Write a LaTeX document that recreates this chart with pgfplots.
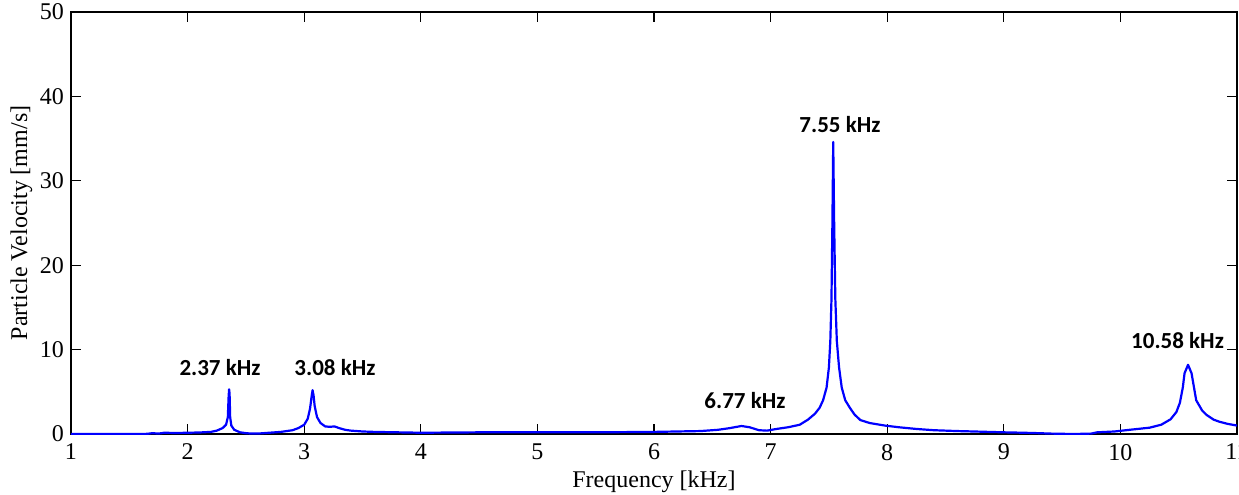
\documentclass[border=0pt]{standalone}
\usepackage{fontspec}
\setmainfont{Liberation Serif}
\newfontfamily\calfont{Carlito}
\usepackage{pgfplots}
\pgfplotsset{compat=1.18}
\begin{document}
\begin{tikzpicture}
\begin{axis}[
  scale only axis,
  width=583pt, height=211pt,
  xmin=1, xmax=11, ymin=0, ymax=50,
  xtick={1,2,...,11}, ytick={0,10,...,50},
  tick align=inside,
  major tick length=5pt,
  tick style={black, line width=0.6pt},
  axis line style={black, line width=0.8pt},
  /pgf/number format/assume math mode=true,
  ticklabel style={font=\fontsize{12}{14}\selectfont},
  xticklabel style={yshift=-1.5pt},
  label style={font=\fontsize{12}{14}\selectfont},
  xlabel={Frequency [kHz]},
  ylabel={Particle Velocity [mm/s]},
  xlabel style={yshift=1.8pt},
  ylabel style={yshift=-3pt},
  clip=true,
]
\addplot[blue, line width=1.1pt, line join=round] coordinates {
(1.00,0.0) (1.50,0.0) (1.65,0.02) (1.70,0.1) (1.75,0.05) (1.80,0.15) (1.90,0.12)
(2.00,0.15) (2.10,0.18) (2.20,0.25) (2.25,0.4) (2.30,0.7) (2.33,1.1) (2.345,2.0)
(2.352,4.5) (2.356,5.3) (2.360,4.8) (2.365,2.0) (2.375,1.0) (2.40,0.5) (2.45,0.2)
(2.50,0.1) (2.55,0.05) (2.60,0.05) (2.65,0.1) (2.70,0.15) (2.80,0.25) (2.90,0.45)
(2.95,0.7) (3.00,1.1) (3.03,1.8) (3.05,3.0) (3.065,4.6) (3.072,5.2) (3.08,4.6)
(3.09,3.3) (3.11,2.0) (3.14,1.3) (3.18,0.9) (3.22,0.85) (3.26,0.9) (3.30,0.7)
(3.35,0.5) (3.40,0.4) (3.50,0.3) (3.60,0.25) (3.80,0.2) (4.00,0.15) (4.5,0.2)
(5.0,0.2) (5.5,0.2) (6.0,0.25) (6.2,0.3) (6.4,0.35) (6.55,0.5) (6.65,0.7)
(6.75,0.95) (6.82,0.8) (6.90,0.45) (6.97,0.4) (7.05,0.6) (7.15,0.8) (7.25,1.1)
(7.32,1.7) (7.38,2.4) (7.42,3.1) (7.45,4.0) (7.48,5.5) (7.50,7.9) (7.512,11)
(7.522,16) (7.530,25) (7.537,34.6) (7.545,25) (7.555,16) (7.568,11) (7.587,7.9)
(7.61,5.5) (7.64,4.0) (7.68,3.1) (7.72,2.3) (7.77,1.65) (7.85,1.3) (7.98,1.0)
(8.10,0.8) (8.25,0.6) (8.40,0.45) (8.60,0.35) (8.74,0.3) (9.00,0.2) (9.17,0.15)
(9.30,0.1) (9.40,0.05) (9.60,0.0) (9.75,0.05) (9.80,0.2) (9.95,0.3) (10.08,0.5)
(10.25,0.75) (10.35,1.1) (10.43,1.74) (10.48,2.6) (10.51,3.7) (10.535,5.5)
(10.55,7.2) (10.58,8.2) (10.61,7.2) (10.635,5.2) (10.65,4.0) (10.70,2.8)
(10.74,2.25) (10.80,1.7) (10.85,1.45) (10.92,1.2) (11.00,1.0)
};
\begin{scope}[every node/.style={font=\calfont\bfseries\fontsize{11.5}{13}\selectfont, inner sep=0pt}]
\node at (axis cs:2.278,7.9) {2.37 kHz};
\node at (axis cs:3.264,7.9) {3.08 kHz};
\node at (axis cs:6.78,4.0) {6.77 kHz};
\node at (axis cs:7.595,36.7) {7.55 kHz};
\node at (axis cs:10.49,11.1) {10.58 kHz};
\end{scope}
\coordinate (ll) at (rel axis cs:0,0);
\coordinate (ur) at (rel axis cs:1,1);
\end{axis}
\pgfresetboundingbox
\path[use as bounding box] ([xshift=-35.5pt,yshift=-30pt]ll) rectangle ([xshift=1pt,yshift=6pt]ur);
\end{tikzpicture}
\end{document}
